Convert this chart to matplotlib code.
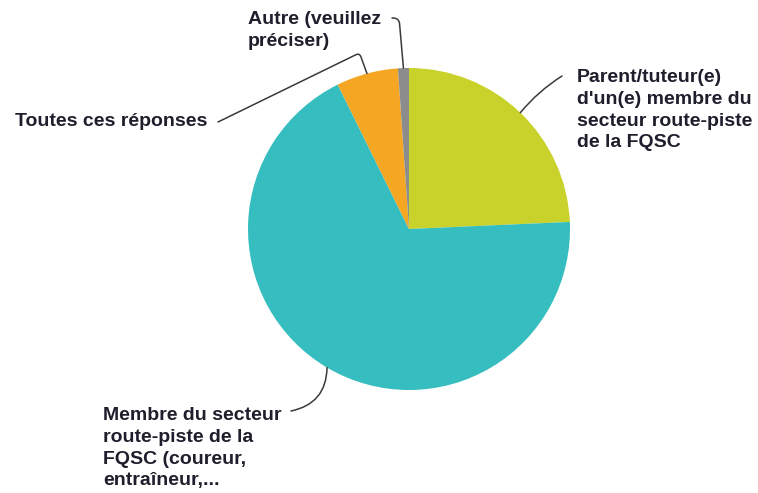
import numpy as np
import matplotlib.pyplot as plt

# parts of the pie, clockwise from the top
labels = ["Parent/tuteur(e)\nd'un(e) membre du\nsecteur route-piste\nde la FQSC",
          "Membre du secteur\nroute-piste de la\nFQSC (coureur,\nentraîneur,...",
          "Toutes ces réponses",
          "Autre (veuillez\npréciser)"]
values = [24.3, 68.4, 6.2, 1.1]
colors = ["#c9d22a", "#35bdbf", "#f5a623", "#8c8c8c"]

W, H = 758, 493
fig = plt.figure(figsize=(W / 100, H / 100), dpi=100)

def px(x, y):
    # top-left pixel -> figure pixels
    return (x, H - y)

# pie centred at (409, 229), radius 161 px
cx, cy, r = 409, 229, 161
ax = fig.add_axes([(cx - r) / W, (H - cy - r) / H, 2 * r / W, 2 * r / H])
wedges, _ = ax.pie(values, colors=colors, startangle=90, counterclock=False,
                   wedgeprops=dict(linewidth=0))
ax.set_xlim(-1, 1)
ax.set_ylim(-1, 1)
ax.set_aspect("equal")
ax.axis("off")

# text placement (top-left pixel of text block) and leader start/style
txt_pos = [(577, 69), (103, 407), (15, 121), (248, 11)]
line_start = [(562, 76), (291, 411), (218, 122), (392, 18)]
conn = ["arc3,rad=0.08", "arc3,rad=0.4",
        "angle,angleA=26,angleB=110,rad=4", "angle,angleA=0,angleB=95,rad=6"]

font = dict(family=["Liberation Sans", "DejaVu Sans"], fontsize=14,
            fontweight="bold", color="#1e1e2c", linespacing=1.37)

for i, w in enumerate(wedges):
    mid = np.deg2rad((w.theta1 + w.theta2) / 2)
    xy = (np.cos(mid), np.sin(mid))
    tx, ty = txt_pos[i]
    va = "center" if i == 2 else "top"
    fig.text(tx / W, (H - ty) / H, labels[i], ha="left", va=va, **font)
    ax.annotate("", xy=xy, xycoords="data",
                xytext=px(*line_start[i]), textcoords="figure pixels",
                arrowprops=dict(arrowstyle="-", color="#3a3a3a", lw=1.1,
                                connectionstyle=conn[i],
                                shrinkA=0, shrinkB=0),
                annotation_clip=False)

fig.savefig("out.png", dpi=100, facecolor="white")
